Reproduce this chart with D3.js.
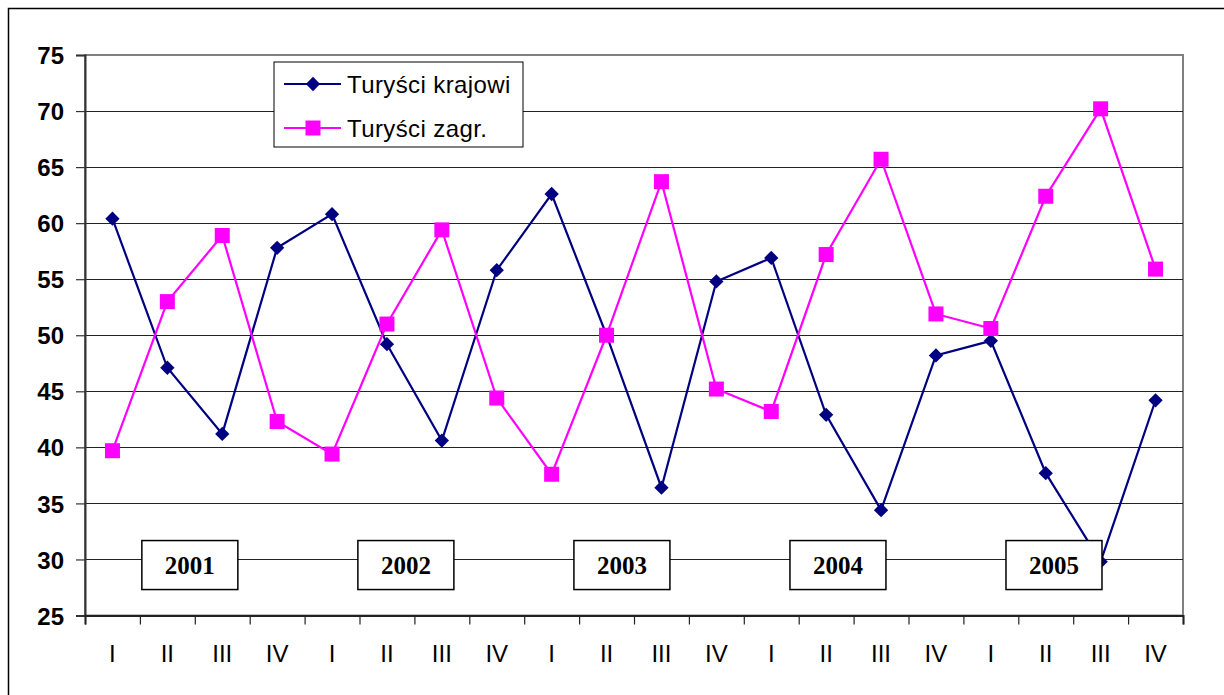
<!DOCTYPE html>
<meta charset="utf-8">
<head>
  <style>
    body {margin: 0; background: #ffffff;}
    svg {display: block;}
  </style>
  <title></title>
</head>
<body>
<script src="https://d3js.org/d3.v7.min.js"></script>
<script>

  // quarters 2001-2005
  const quarters = ["I","II","III","IV","I","II","III","IV","I","II","III","IV",
                    "I","II","III","IV","I","II","III","IV"];
  const krajowi = [60.4, 47.1, 41.2, 57.8, 60.8, 49.2, 40.6, 55.8, 62.6, 50.0,
                   36.4, 54.8, 56.9, 42.9, 34.4, 48.2, 49.5, 37.7, 29.8, 44.2];
  const zagr = [39.7, 53.0, 58.9, 42.3, 39.4, 51.0, 59.4, 44.4, 37.6, 50.0,
                63.7, 45.2, 43.2, 57.2, 65.7, 51.9, 50.6, 62.4, 70.2, 55.9];
  const years = ["2001", "2002", "2003", "2004", "2005"];
  const yTicks = [25, 30, 35, 40, 45, 50, 55, 60, 65, 70, 75];
  const seriesNames = ["Turyści krajowi", "Turyści zagr."];

  const W = 1224, H = 695;
  const plot = {left: 85, right: 1183, top: 55, bottom: 615.5};

  const svg = d3.select("body").append("svg")
      .attr("width", W)
      .attr("height", H);

  // outer frame
  svg.append("rect")
    .attr("x", 8.5).attr("y", 8.5)
    .attr("width", W + 20).attr("height", H + 20)
    .attr("fill", "none")
    .attr("stroke", "#000").attr("stroke-width", 1.5);

  const x = d3.scaleBand()
    .domain(d3.range(quarters.length))
    .range([plot.left, plot.right]);

  const xLin = d3.scaleLinear()
    .domain([0, quarters.length])
    .range([plot.left, plot.right]);

  const y = d3.scaleLinear()
    .domain([25, 75])
    .range([plot.bottom, plot.top]);

  const cx = i => x(i) + x.bandwidth() / 2;

  // plot frame (top / right in gray)
  svg.append("rect")
    .attr("x", plot.left).attr("y", plot.top)
    .attr("width", plot.right - plot.left)
    .attr("height", plot.bottom - plot.top)
    .attr("fill", "none")
    .attr("stroke", "#808080").attr("stroke-width", 2);

  // gridlines
  svg.append("g")
    .selectAll("line")
    .data(yTicks.filter(d => d > 25 && d < 75))
    .join("line")
      .attr("x1", plot.left).attr("x2", plot.right)
      .attr("y1", d => Math.round(y(d)) + 0.5)
      .attr("y2", d => Math.round(y(d)) + 0.5)
      .attr("stroke", "#222").attr("stroke-width", 1);

  // y axis
  const yAxis = svg.append("g")
    .attr("transform", "translate(" + plot.left + ",0)")
    .call(d3.axisLeft(y).tickValues(yTicks).tickSize(9).tickPadding(12));
  yAxis.select(".domain").attr("stroke", "#333").attr("stroke-width", 2);
  yAxis.selectAll(".tick line").attr("stroke", "#333").attr("stroke-width", 1.2);
  yAxis.selectAll(".tick text")
    .attr("font-family", "Liberation Sans, Arial, sans-serif")
    .attr("font-size", 24)
    .attr("font-weight", "bold")
    .attr("fill", "#000")
    .attr("dy", "0.36em");

  // x axis: ticks between categories
  const xAxis = svg.append("g")
    .attr("transform", "translate(0," + plot.bottom + ")")
    .call(d3.axisBottom(xLin).ticks(quarters.length).tickSize(9).tickFormat(""));
  xAxis.select(".domain").attr("stroke", "#222").attr("stroke-width", 2);
  xAxis.selectAll(".tick line").attr("stroke", "#222").attr("stroke-width", 1.2);

  svg.append("g")
    .selectAll("text")
    .data(quarters)
    .join("text")
      .attr("x", (d, i) => cx(i))
      .attr("y", plot.bottom + 46)
      .attr("text-anchor", "middle")
      .attr("font-family", "Liberation Sans, Arial, sans-serif")
      .attr("font-size", 24)
      .attr("fill", "#000")
      .text(d => d);

  const line = d3.line()
    .x((d, i) => cx(i))
    .y(d => y(d));

  const diamond = d3.symbol(d3.symbolDiamond2, 130);

  // krajowi
  svg.append("path")
    .datum(krajowi)
    .attr("d", line)
    .attr("fill", "none")
    .attr("stroke", "#000080")
    .attr("stroke-width", 2.2);

  svg.append("g")
    .selectAll("path")
    .data(krajowi)
    .join("path")
      .attr("d", diamond)
      .attr("transform", (d, i) => "translate(" + cx(i) + "," + y(d) + ")")
      .attr("fill", "#000080");

  // zagr
  svg.append("path")
    .datum(zagr)
    .attr("d", line)
    .attr("fill", "none")
    .attr("stroke", "#ff00ff")
    .attr("stroke-width", 2.2);

  svg.append("g")
    .selectAll("rect")
    .data(zagr)
    .join("rect")
      .attr("x", (d, i) => cx(i) - 7.5)
      .attr("y", d => y(d) - 7.5)
      .attr("width", 15).attr("height", 15)
      .attr("fill", "#ff00ff");

  // year boxes
  const yearBox = svg.append("g")
    .selectAll("g")
    .data(years)
    .join("g")
      .attr("transform", (d, i) =>
        "translate(" + xLin(1.91 + 3.935 * i) + "," + y(29.5) + ")");
  yearBox.append("rect")
    .attr("x", -48).attr("y", -24.5)
    .attr("width", 96).attr("height", 49)
    .attr("fill", "#fff")
    .attr("stroke", "#000").attr("stroke-width", 1.5);
  yearBox.append("text")
    .attr("y", 9)
    .attr("text-anchor", "middle")
    .attr("font-family", "Liberation Serif, Times New Roman, serif")
    .attr("font-size", 25)
    .attr("font-weight", "bold")
    .text(d => d);

  // legend
  const legend = svg.append("g")
    .attr("transform", "translate(274,62)");
  legend.append("rect")
    .attr("width", 249).attr("height", 85)
    .attr("fill", "#fff")
    .attr("stroke", "#000").attr("stroke-width", 1);

  const rows = legend.selectAll("g.row")
    .data(seriesNames)
    .join("g")
      .attr("class", "row")
      .attr("transform", (d, i) => "translate(0," + (22 + i * 44) + ")");
  rows.append("line")
    .attr("x1", 10).attr("x2", 67)
    .attr("stroke", (d, i) => i === 0 ? "#000080" : "#ff00ff")
    .attr("stroke-width", 2.2);
  rows.filter((d, i) => i === 0).append("path")
    .attr("d", diamond)
    .attr("transform", "translate(39,0)")
    .attr("fill", "#000080");
  rows.filter((d, i) => i === 1).append("rect")
    .attr("x", 31.5).attr("y", -7.5)
    .attr("width", 15).attr("height", 15)
    .attr("fill", "#ff00ff");
  rows.append("text")
    .attr("x", 73)
    .attr("y", 8.5)
    .attr("font-family", "Liberation Sans, Arial, sans-serif")
    .attr("font-size", 24)
    .attr("letter-spacing", 0.4)
    .attr("fill", "#000")
    .text(d => d);

</script>
</body>
